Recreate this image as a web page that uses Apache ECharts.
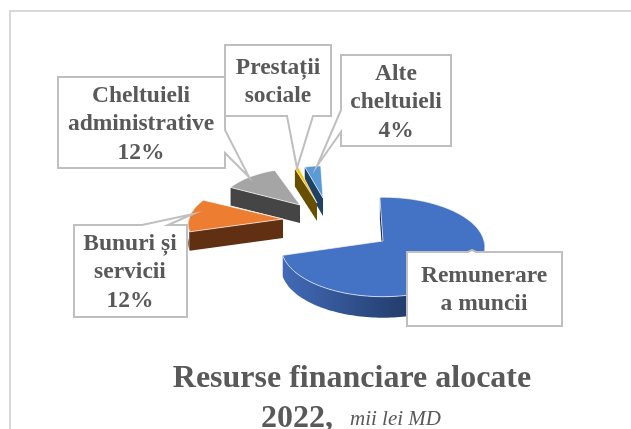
<!DOCTYPE html>
<html>
<head>
<meta charset="utf-8">
<style>
html, body { margin: 0; padding: 0; background: #fff; }
#chart { width: 631px; height: 429px; }
</style>
<script src="https://cdn.jsdelivr.net/npm/echarts@6/dist/echarts.min.js"></script>
</head>
<body>
<div id="chart"></div>
<script>
// shares of the total, in percent
const categories = ['Remunerare a muncii', 'Bunuri și servicii', 'Cheltuieli administrative', 'Prestații sociale', 'Alte cheltuieli'];
const values = [71, 12, 12, 1, 4];
const topColors = ['#4472c4', '#ed7d31', '#a5a5a5', '#ffc000', '#5b9bd5'];
const sideColors = ['#14264a', '#612f12', '#454545', '#665000', '#1f4164'];
const firstAngle = -2;

// exploded 3d look: where each slice tip sits and how far away it looks
const tips = [[383, 241], [283, 219], [300, 205], [317, 203], [323, 198]];
const radiusX = [101, 94, 82, 72, 72];
const radiusY = [49, 44, 41, 41, 36];
const depths = [21, 19, 18, 18, 18];
const persp = 0.12;

const total = values.reduce((a, b) => a + b, 0);
const rad = (d) => d * Math.PI / 180;

function project(i, u, v, drop) {
    const s = 1 / (1 + persp * v);
    return [
        tips[i][0] + radiusX[i] * u * s,
        tips[i][1] - radiusY[i] * v * s + (drop ? depths[i] : 0)
    ];
}

function sliceAngles(i) {
    let a0 = firstAngle;
    for (let k = 0; k < i; k++) a0 += values[k] / total * 360;
    return [a0, a0 + values[i] / total * 360];
}

function arcPoints(i, from, to, drop) {
    const pts = [];
    const n = Math.max(2, Math.ceil((to - from) / 1.5));
    for (let k = 0; k <= n; k++) {
        const t = rad(from + (to - from) * k / n);
        pts.push(project(i, Math.sin(t), Math.cos(t), drop));
    }
    return pts;
}

function renderSlice(params, api) {
    const i = api.value(0);
    const [a0, a1] = sliceAngles(i);
    const children = [];
    const p = (points, fill, stroke) => children.push({
        type: 'polygon',
        shape: { points: points },
        style: { fill: fill, stroke: stroke || null, lineWidth: 1 }
    });

    // flat cut face at the start of the slice
    p([project(i, 0, 0, false), project(i, Math.sin(rad(a0)), Math.cos(rad(a0)), false),
        project(i, Math.sin(rad(a0)), Math.cos(rad(a0)), true), project(i, 0, 0, true)], sideColors[i]);

    // rim, only the part turned to the viewer
    const from = Math.max(a0, 90), to = Math.min(a1, 270);
    if (to > from) {
        const rimFill = i === 0
            ? new echarts.graphic.LinearGradient(286, 0, 420, 0, [
                { offset: 0, color: '#4169b5' },
                { offset: 1, color: '#1f3864' }
            ], true)
            : sideColors[i];
        p(arcPoints(i, from, to, false).concat(arcPoints(i, from, to, true).reverse()), rimFill);
    }

    p([project(i, 0, 0, false)].concat(arcPoints(i, a0, a1, false)), topColors[i], 'rgba(255,255,255,0.65)');
    return { type: 'group', children: children };
}

const labelFont = 'bold 23.5px "Liberation Serif"';
const callouts = [
    { text: 'Cheltuieli\nadministrative\n12%', cx: 141, cy: 124,
      outline: [[58, 77], [225, 77], [225, 130], [249, 177], [225, 153], [225, 168], [58, 168]] },
    { text: 'Prestații\nsociale', cx: 278, cy: 82,
      outline: [[225, 45], [331, 45], [331, 116], [313, 116], [297, 168], [287, 116], [225, 116]] },
    { text: 'Alte\ncheltuieli\n4%', cx: 396, cy: 102,
      outline: [[341, 55], [451, 55], [451, 146], [341, 146], [341, 132], [317, 166], [341, 110]] },
    { text: 'Bunuri și\nservicii\n12%', cx: 130, cy: 272,
      outline: [[74, 225], [142, 225], [193, 214], [168, 225], [187, 225], [187, 317], [74, 317]] },
    { text: 'Remunerare\na muncii', cx: 484, cy: 290,
      outline: [[407, 252], [468, 252], [472, 250], [476, 252], [562, 252], [562, 326], [407, 326]] }
];

const graphics = [
    { type: 'polyline', shape: { points: [[10, 429], [10, 11], [631, 11]] },
      style: { fill: null, stroke: '#d9d9d9', lineWidth: 2 }, z: 1 }
];
callouts.forEach((c) => {
    graphics.push({
        type: 'polygon', z: 10, shape: { points: c.outline },
        style: { fill: '#fff', stroke: '#bfbfbf', lineWidth: 2 }
    });
    graphics.push({
        type: 'text', z: 11, x: c.cx, y: c.cy,
        style: { text: c.text, font: labelFont, fill: '#595959', align: 'center', verticalAlign: 'middle', lineHeight: 28.5 }
    });
});

const chart = echarts.init(document.getElementById('chart'));
chart.setOption({
    animation: false,
    backgroundColor: '#fff',
    title: [{
        text: 'Resurse financiare alocate',
        left: 347, top: 358, textAlign: 'center',
        textStyle: { fontFamily: 'Liberation Serif', fontSize: 32, fontWeight: 'bold', color: '#595959' }
    }, {
        text: '{a|2022,}  {b|mii lei MD}',
        left: 346, top: 398, textAlign: 'center',
        textStyle: {
            rich: {
                a: { fontFamily: 'Liberation Serif', fontSize: 32, fontWeight: 'bold', color: '#595959' },
                b: { fontFamily: 'Liberation Serif', fontSize: 21, fontWeight: 'normal', fontStyle: 'italic', color: '#595959', padding: [0, 0, 0, 7] }
            }
        }
    }],
    graphic: { elements: graphics },
    series: [{
        type: 'custom',
        coordinateSystem: 'none',
        renderItem: renderSlice,
        // back to front
        data: [4, 3, 2, 1, 0].map((i) => ({ name: categories[i], value: [i, values[i]] }))
    }]
});
</script>
</body>
</html>
